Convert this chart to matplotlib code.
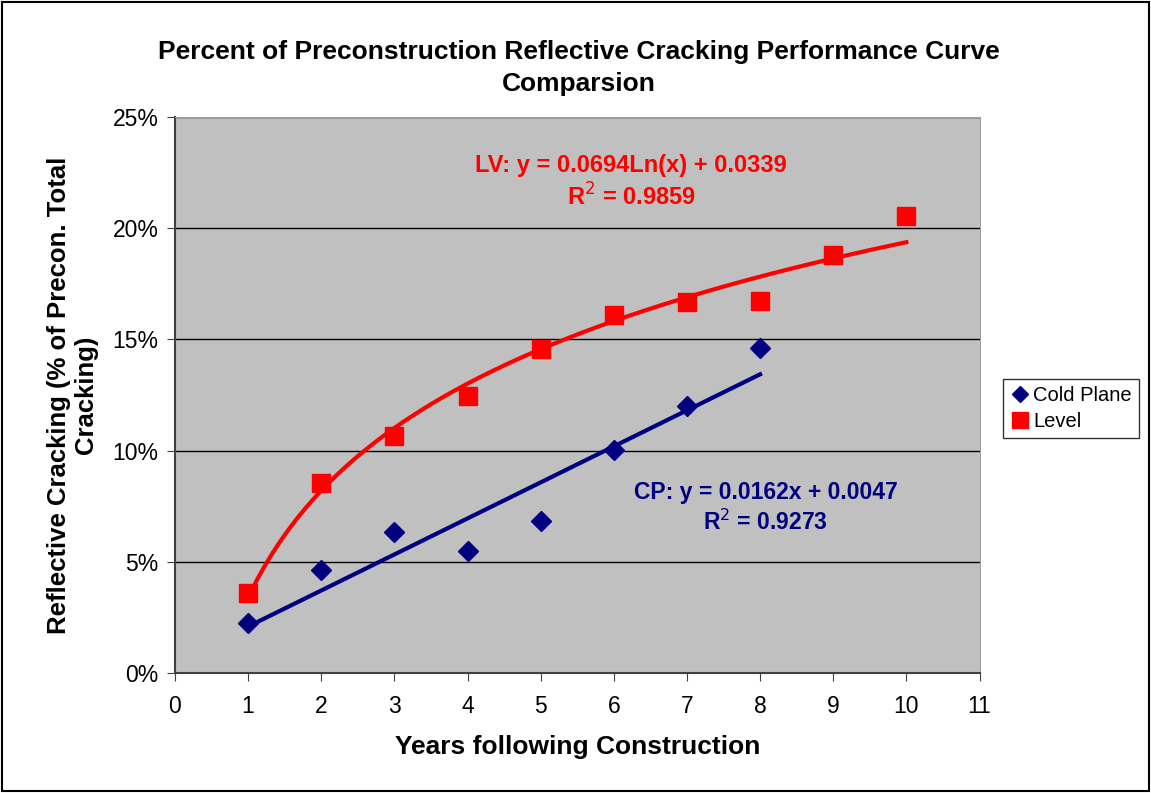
import numpy as np
import matplotlib
matplotlib.use("Agg")
from matplotlib import pyplot as plt
from matplotlib.ticker import PercentFormatter

# Data
years_cp = [1, 2, 3, 4, 5, 6, 7, 8]
cold_plane = [0.0225, 0.0463, 0.0634, 0.0549, 0.0683, 0.1003, 0.1200, 0.1461]

years_lv = [1, 2, 3, 4, 5, 6, 7, 8, 9, 10]
level = [0.0360, 0.0854, 0.1066, 0.1245, 0.1457, 0.1610, 0.1668, 0.1673, 0.1880, 0.2055]

# Trendline coefficients as printed on the chart
cp_slope, cp_intercept = 0.0162, 0.0047
lv_coef, lv_intercept = 0.0694, 0.0339

plt.rcParams["font.family"] = ["Liberation Sans", "DejaVu Sans"]

fig = plt.figure(figsize=(11.51, 7.93), dpi=100)
ax = fig.add_axes([0.152, 0.1513, 0.699, 0.7012])
ax.set_facecolor("#c0c0c0")

# trendlines
xc = np.linspace(1, 8, 50)
ax.plot(xc, cp_slope * xc + cp_intercept, color="#000080", lw=3, zorder=2)
xl = np.linspace(1, 10, 200)
ax.plot(xl, lv_coef * np.log(xl) + lv_intercept, color="#ff0000", lw=3, zorder=2)

# markers
ax.plot(years_cp, cold_plane, linestyle="none", marker="D", ms=10,
        color="#000080", label="Cold Plane", zorder=3)
ax.plot(years_lv, level, linestyle="none", marker="s", ms=13,
        color="#ff0000", label="Level", zorder=3)

ax.set_xlim(0, 11)
ax.set_ylim(0, 0.25)
ax.set_xticks(range(0, 12))
ax.set_yticks(np.arange(0, 0.26, 0.05))
ax.yaxis.set_major_formatter(PercentFormatter(1.0, decimals=0))
ax.yaxis.grid(True, color="black", lw=1)
ax.set_axisbelow(True)
ax.tick_params(axis="both", labelsize=16.5, length=6, color="#404040")
ax.tick_params(axis="x", pad=10)
ax.tick_params(axis="y", pad=6)
for side in ["left", "bottom"]:
    ax.spines[side].set_color("#404040")
    ax.spines[side].set_linewidth(1.5)
for side in ["top", "right"]:
    ax.spines[side].set_color("#a0a0a0")

ax.set_xlabel("Years following Construction", fontsize=19, fontweight="bold", labelpad=12)
ax.set_ylabel("Reflective Cracking (% of Precon. Total\nCracking)", fontsize=18.5,
              fontweight="bold", labelpad=10)

fig.text(0.503, 0.914, "Percent of Preconstruction Reflective Cracking Performance Curve\nComparsion",
         ha="center", va="center", fontsize=19, fontweight="bold", linespacing=1.45)

ax.text(6.24, 0.2205, "LV: y = 0.0694Ln(x) + 0.0339\nR$^2$ = 0.9859", color="#ff0000",
        ha="center", va="center", fontsize=17, fontweight="bold", linespacing=1.3)
ax.text(8.08, 0.0742, "CP: y = 0.0162x + 0.0047\nR$^2$ = 0.9273", color="#000080",
        ha="center", va="center", fontsize=16.5, fontweight="bold", linespacing=1.3)

leg = ax.legend(loc="center left", bbox_to_anchor=(1.017, 0.476), fontsize=14.5,
                frameon=True, fancybox=False, edgecolor="black", handletextpad=0.15,
                handlelength=1.0, borderpad=0.35, labelspacing=0.35, markerscale=0.85)
leg.get_frame().set_linewidth(1)

# outer border of the chart area
fig.patches.append(plt.Rectangle((0.002, 0.002), 0.996, 0.996, transform=fig.transFigure,
                                 fill=False, edgecolor="black", lw=1.5))

fig.savefig("out.png", dpi=100)
